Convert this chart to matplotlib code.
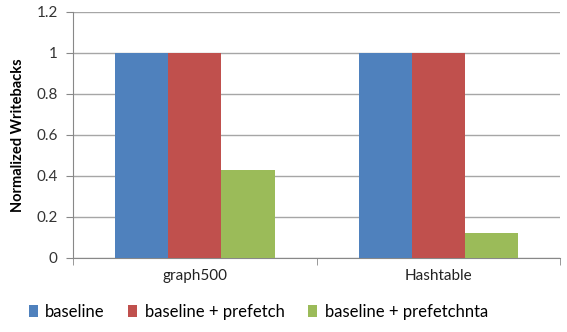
import matplotlib
matplotlib.use("Agg")
import matplotlib.pyplot as plt
import numpy as np

categories = ["graph500", "Hashtable"]
series_names = ["baseline", "baseline + prefetch", "baseline + prefetchnta"]
baseline = [1.0, 1.0]
prefetch = [1.0, 1.0]
prefetchnta = [0.43, 0.12]
yticks = [0, 0.2, 0.4, 0.6, 0.8, 1, 1.2]
ytick_labels = ["0", "0.2", "0.4", "0.6", "0.8", "1", "1.2"]

colors = ["#4F81BD", "#C0504D", "#9BBB59"]
plt.rcParams["font.family"] = ["Lato", "DejaVu Sans"]

fig = plt.figure(figsize=(5.67, 3.32), dpi=100)
ax = fig.add_axes([0.129, 0.223, 0.859, 0.741])

x = np.arange(len(categories))
w = 0.218
for i, (vals, name) in enumerate(zip([baseline, prefetch, prefetchnta], series_names)):
    ax.bar(x + (i - 1) * w, vals, width=w, color=colors[i], label=name, zorder=3)

ax.set_xlim(-0.5, len(categories) - 0.5)
ax.set_ylim(0, 1.2)
ax.set_yticks(yticks)
ax.set_yticklabels(ytick_labels, fontsize=11, color="#333333")
ax.yaxis.grid(True, color="#A6A6A6", linewidth=1, zorder=0)

ax.set_xticks(x)
ax.set_xticklabels(categories, fontsize=11, color="#222222")
ax.tick_params(axis="x", length=0, pad=8)
ax.set_xticks(np.arange(-0.5, len(categories), 1.0), minor=True)
ax.tick_params(axis="x", which="minor", length=5, color="#888888")
ax.tick_params(axis="y", length=5, color="#888888", pad=6)

for s in ["top", "right"]:
    ax.spines[s].set_visible(False)
ax.spines["left"].set_color("#888888")
ax.spines["bottom"].set_color("#888888")

ax.set_ylabel("Normalized Writebacks", fontsize=10.5, fontweight="bold", labelpad=8)

ax.legend(loc="upper center", bbox_to_anchor=(0.38, -0.125), ncol=3, frameon=False,
          fontsize=12, handlelength=0.55, handleheight=0.7, handletextpad=0.45,
          columnspacing=1.4)

fig.savefig("out.png", dpi=100)
